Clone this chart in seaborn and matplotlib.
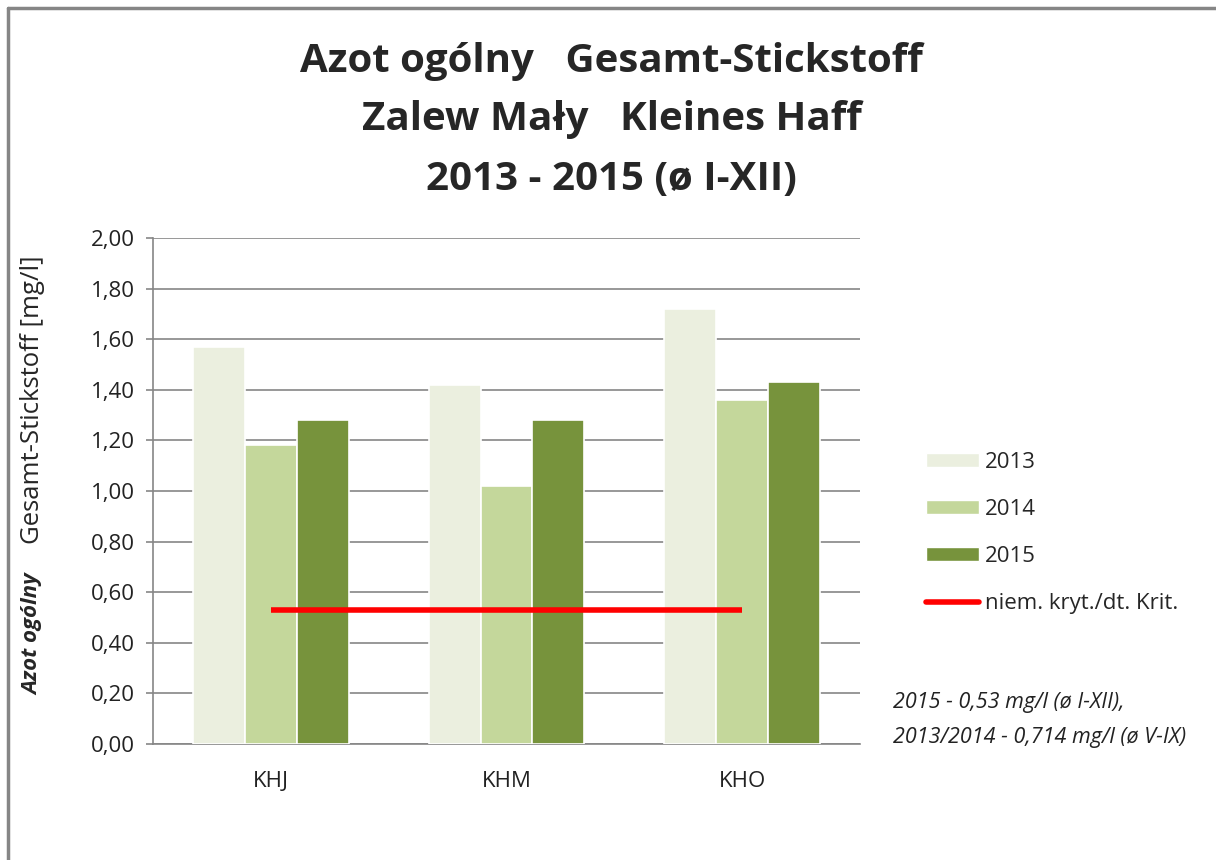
import matplotlib.pyplot as plt
import numpy as np
import pandas as pd
import seaborn as sns
from matplotlib.lines import Line2D
from matplotlib.patches import Patch
from matplotlib.ticker import FuncFormatter, MultipleLocator

# data
stations = ["KHJ", "KHM", "KHO"]
years = ["2013", "2014", "2015"]
n_2013 = [1.57, 1.42, 1.72]
n_2014 = [1.18, 1.02, 1.36]
n_2015 = [1.28, 1.28, 1.43]
crit_value = 0.53
colors = ["#EBEFDF", "#C4D79B", "#77933C"]

df = pd.DataFrame({
    "station": stations * 3,
    "year": np.repeat(years, len(stations)),
    "value": n_2013 + n_2014 + n_2015,
})

sns.set_style("white")
plt.rcParams['font.family'] = ['Open Sans', 'DejaVu Sans']

fig = plt.figure(figsize=(12.16, 8.6), dpi=100)
ax = fig.add_axes([0.1258, 0.1349, 0.5814, 0.5884])

sns.barplot(data=df, x="station", y="value", hue="year", palette=colors, saturation=1,
            width=0.66, edgecolor="white", linewidth=1.2, errorbar=None,
            legend=False, ax=ax, zorder=3)

# critical value line (from first to last station)
ax.hlines(crit_value, 0, len(stations) - 1, color="red", linewidth=4, zorder=4)

ax.set_xlim(-0.5, len(stations) - 0.5)
ax.set_ylim(0, 2.0)
ax.yaxis.set_major_locator(MultipleLocator(0.2))
ax.yaxis.set_major_formatter(FuncFormatter(lambda v, p: f"{v:.2f}".replace(".", ",")))
ax.grid(axis="y", color="#868686", linewidth=1.2, zorder=0)
ax.set_axisbelow(True)
for s in ["top", "right"]:
    ax.spines[s].set_visible(False)
for s in ["left", "bottom"]:
    ax.spines[s].set_color("#868686")
    ax.spines[s].set_linewidth(1.2)
ax.tick_params(axis="y", which="both", left=True, length=5, width=1.2, color="#868686",
               labelsize=16, pad=8, labelcolor="#222222")
ax.tick_params(axis="x", bottom=False, labelsize=16, pad=16, labelcolor="#222222")
ax.set_xlabel("")
ax.set_ylabel("")

# title
fig.text(0.503, 0.929, "Azot ogólny   Gesamt-Stickstoff", ha="center", va="center",
         fontsize=29, fontweight="bold")
fig.text(0.503, 0.861, "Zalew Mały   Kleines Haff", ha="center", va="center",
         fontsize=29, fontweight="bold")
fig.text(0.503, 0.791, "2013 - 2015 (ø I-XII)", ha="center", va="center",
         fontsize=29, fontweight="bold")

# y label in two parts
fig.text(0.027, 0.262, "Azot ogólny", rotation=90, ha="center", va="center",
         fontsize=16, fontweight="bold", style="italic")
fig.text(0.027, 0.535, "Gesamt-Stickstoff [mg/l]", rotation=90, ha="center", va="center",
         fontsize=18.5)

# legend
handles = [Patch(facecolor=c, edgecolor="white") for c in colors]
handles.append(Line2D([0], [0], color="red", linewidth=4))
fig.legend(handles, years + ["niem. kryt./dt. Krit."], loc="center left",
           bbox_to_anchor=(0.745, 0.38), frameon=False, fontsize=16,
           handlelength=2.4, handleheight=0.6, labelspacing=1.17, handletextpad=0.25)

# note
fig.text(0.734, 0.183, "2015 - 0,53 mg/l (ø I-XII),", fontsize=15.5, style="italic",
         va="center", color="#222222")
fig.text(0.734, 0.143, "2013/2014 - 0,714 mg/l (ø V-IX)", fontsize=15.5, style="italic",
         va="center", color="#222222")

# outer chart frame (top and left edges visible)
fx, fy = 8 / 1216, 1 - 8 / 860
fig.add_artist(Line2D([fx, fx], [0, fy], color="#868686", linewidth=2.5, transform=fig.transFigure))
fig.add_artist(Line2D([fx, 1], [fy, fy], color="#868686", linewidth=2.5, transform=fig.transFigure))

fig.savefig("out.png", dpi=100)
